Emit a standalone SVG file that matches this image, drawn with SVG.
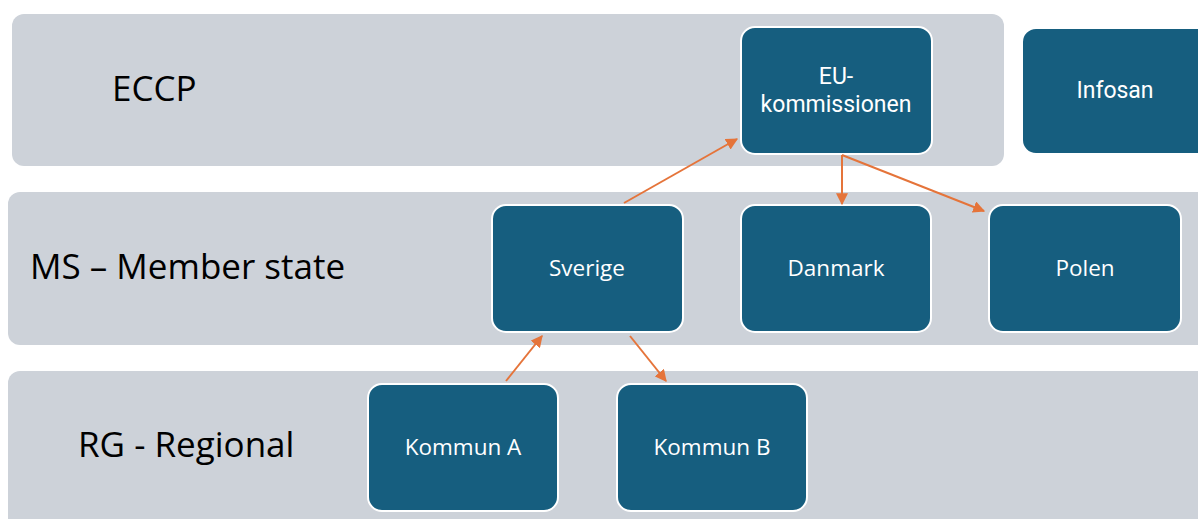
<svg xmlns="http://www.w3.org/2000/svg" width="1198" height="519" viewBox="0 0 1198 519">
<defs>
<style>
.band{fill:#cdd2d9}
.node{fill:#165e7f;stroke:#ffffff;stroke-width:2}
.bl{font-family:"Open Sans","Liberation Sans",sans-serif;font-size:35px;fill:#000}
.nl{font-family:"Open Sans","Liberation Sans",sans-serif;font-size:22.5px;fill:#fff;text-anchor:middle}
.nr{font-family:Roboto,"Liberation Sans",sans-serif;font-size:23px;fill:#fff;text-anchor:middle}
.c{stroke:#e5743a;stroke-width:2;fill:none;marker-end:url(#ah)}
</style>
<marker id="ah" viewBox="0 0 10 10" refX="9" refY="5" markerWidth="6" markerHeight="6" orient="auto" markerUnits="strokeWidth">
<path d="M0,0 L10,5 L0,10 z" fill="#e5743a"/>
</marker>
</defs>
<rect width="1198" height="519" fill="#fff"/>
<g id="band-eccp"><rect class="band" x="12" y="14" width="992" height="152" rx="12"/><text class="bl" x="112" y="101">ECCP</text></g>
<g id="band-ms"><rect class="band" x="8" y="192" width="1202" height="153" rx="12"/><text class="bl" x="30" y="279">MS – Member state</text></g>
<g id="band-rg"><rect class="band" x="8" y="371" width="1202" height="160" rx="12"/><text class="bl" x="78" y="457">RG - Regional</text></g>
<g id="eu"><rect class="node" x="741" y="27" width="191" height="127" rx="14"/><text class="nr" x="836" y="84">EU-</text><text class="nr" x="836" y="112">kommissionen</text></g>
<g id="infosan"><rect class="node" x="1022" y="28" width="190" height="126" rx="14"/><text class="nr" x="1115" y="98">Infosan</text></g>
<g id="sverige"><rect class="node" x="492" y="205" width="191" height="127" rx="14"/><text class="nl" x="587" y="276">Sverige</text></g>
<g id="danmark"><rect class="node" x="741" y="205" width="190" height="127" rx="14"/><text class="nl" x="836" y="276">Danmark</text></g>
<g id="polen"><rect class="node" x="989" y="205" width="192" height="127" rx="14"/><text class="nl" x="1085" y="276">Polen</text></g>
<g id="kommunA"><rect class="node" x="368" y="384" width="190" height="127" rx="14"/><text class="nl" x="463" y="455">Kommun A</text></g>
<g id="kommunB"><rect class="node" x="617" y="384" width="190" height="127" rx="14"/><text class="nl" x="712" y="455">Kommun B</text></g>
<g id="connectors">
<line class="c" x1="624" y1="203" x2="737" y2="139"/>
<line class="c" x1="842" y1="155" x2="842" y2="204"/>
<line class="c" x1="842" y1="155" x2="984" y2="211"/>
<line class="c" x1="506" y1="381" x2="542" y2="336"/>
<line class="c" x1="630" y1="336" x2="666" y2="381"/>
</g>
</svg>
